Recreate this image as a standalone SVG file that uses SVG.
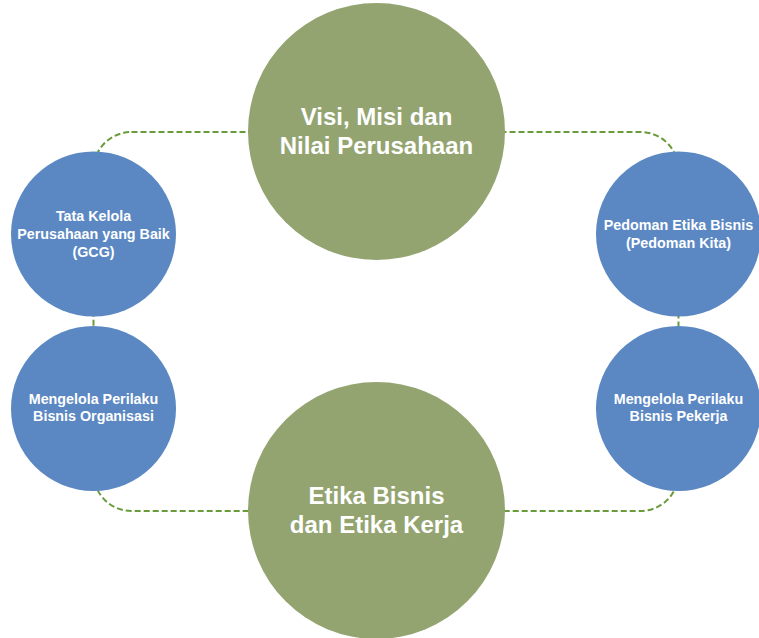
<svg xmlns="http://www.w3.org/2000/svg" width="759" height="638" viewBox="0 0 759 638">
<style>
.big{fill:#94A471}
.small{fill:#5B88C3}
.t{fill:#FFFFFF;font-family:"Liberation Sans",Arial,sans-serif;font-weight:bold;text-anchor:middle}
.tb{font-size:24px}
.ts{font-size:14.3px}
.conn{fill:none;stroke:#6A9B3A;stroke-width:2;stroke-dasharray:6 3}
</style>
<rect width="759" height="638" fill="#FFFFFF"/>
<g id="connectors">
<rect class="conn" x="93.5" y="132" width="585" height="379" rx="38" ry="38"/>
</g>
<g id="visi">
<circle class="big" cx="376.5" cy="131.5" r="128.5"/>
<text class="t tb" x="376.5" y="125">Visi, Misi dan</text>
<text class="t tb" x="376.5" y="154">Nilai Perusahaan</text>
</g>
<g id="etika">
<circle class="big" cx="376.5" cy="510.5" r="128.5"/>
<text class="t tb" x="376.5" y="504">Etika Bisnis</text>
<text class="t tb" x="376.5" y="533">dan Etika Kerja</text>
</g>
<g id="gcg">
<circle class="small" cx="93.5" cy="234" r="82.5"/>
<text class="t ts" x="93.5" y="221">Tata Kelola</text>
<text class="t ts" x="93.5" y="239">Perusahaan yang Baik</text>
<text class="t ts" x="93.5" y="257">(GCG)</text>
</g>
<g id="pedoman">
<circle class="small" cx="678.5" cy="234" r="82.5"/>
<text class="t ts" x="678.5" y="230">Pedoman Etika Bisnis</text>
<text class="t ts" x="678.5" y="248">(Pedoman Kita)</text>
</g>
<g id="organisasi">
<circle class="small" cx="93.5" cy="408.5" r="82.5"/>
<text class="t ts" x="93.5" y="404">Mengelola Perilaku</text>
<text class="t ts" x="93.5" y="421">Bisnis Organisasi</text>
</g>
<g id="pekerja">
<circle class="small" cx="678.5" cy="408.5" r="82.5"/>
<text class="t ts" x="678.5" y="404">Mengelola Perilaku</text>
<text class="t ts" x="678.5" y="421">Bisnis Pekerja</text>
</g>
</svg>
